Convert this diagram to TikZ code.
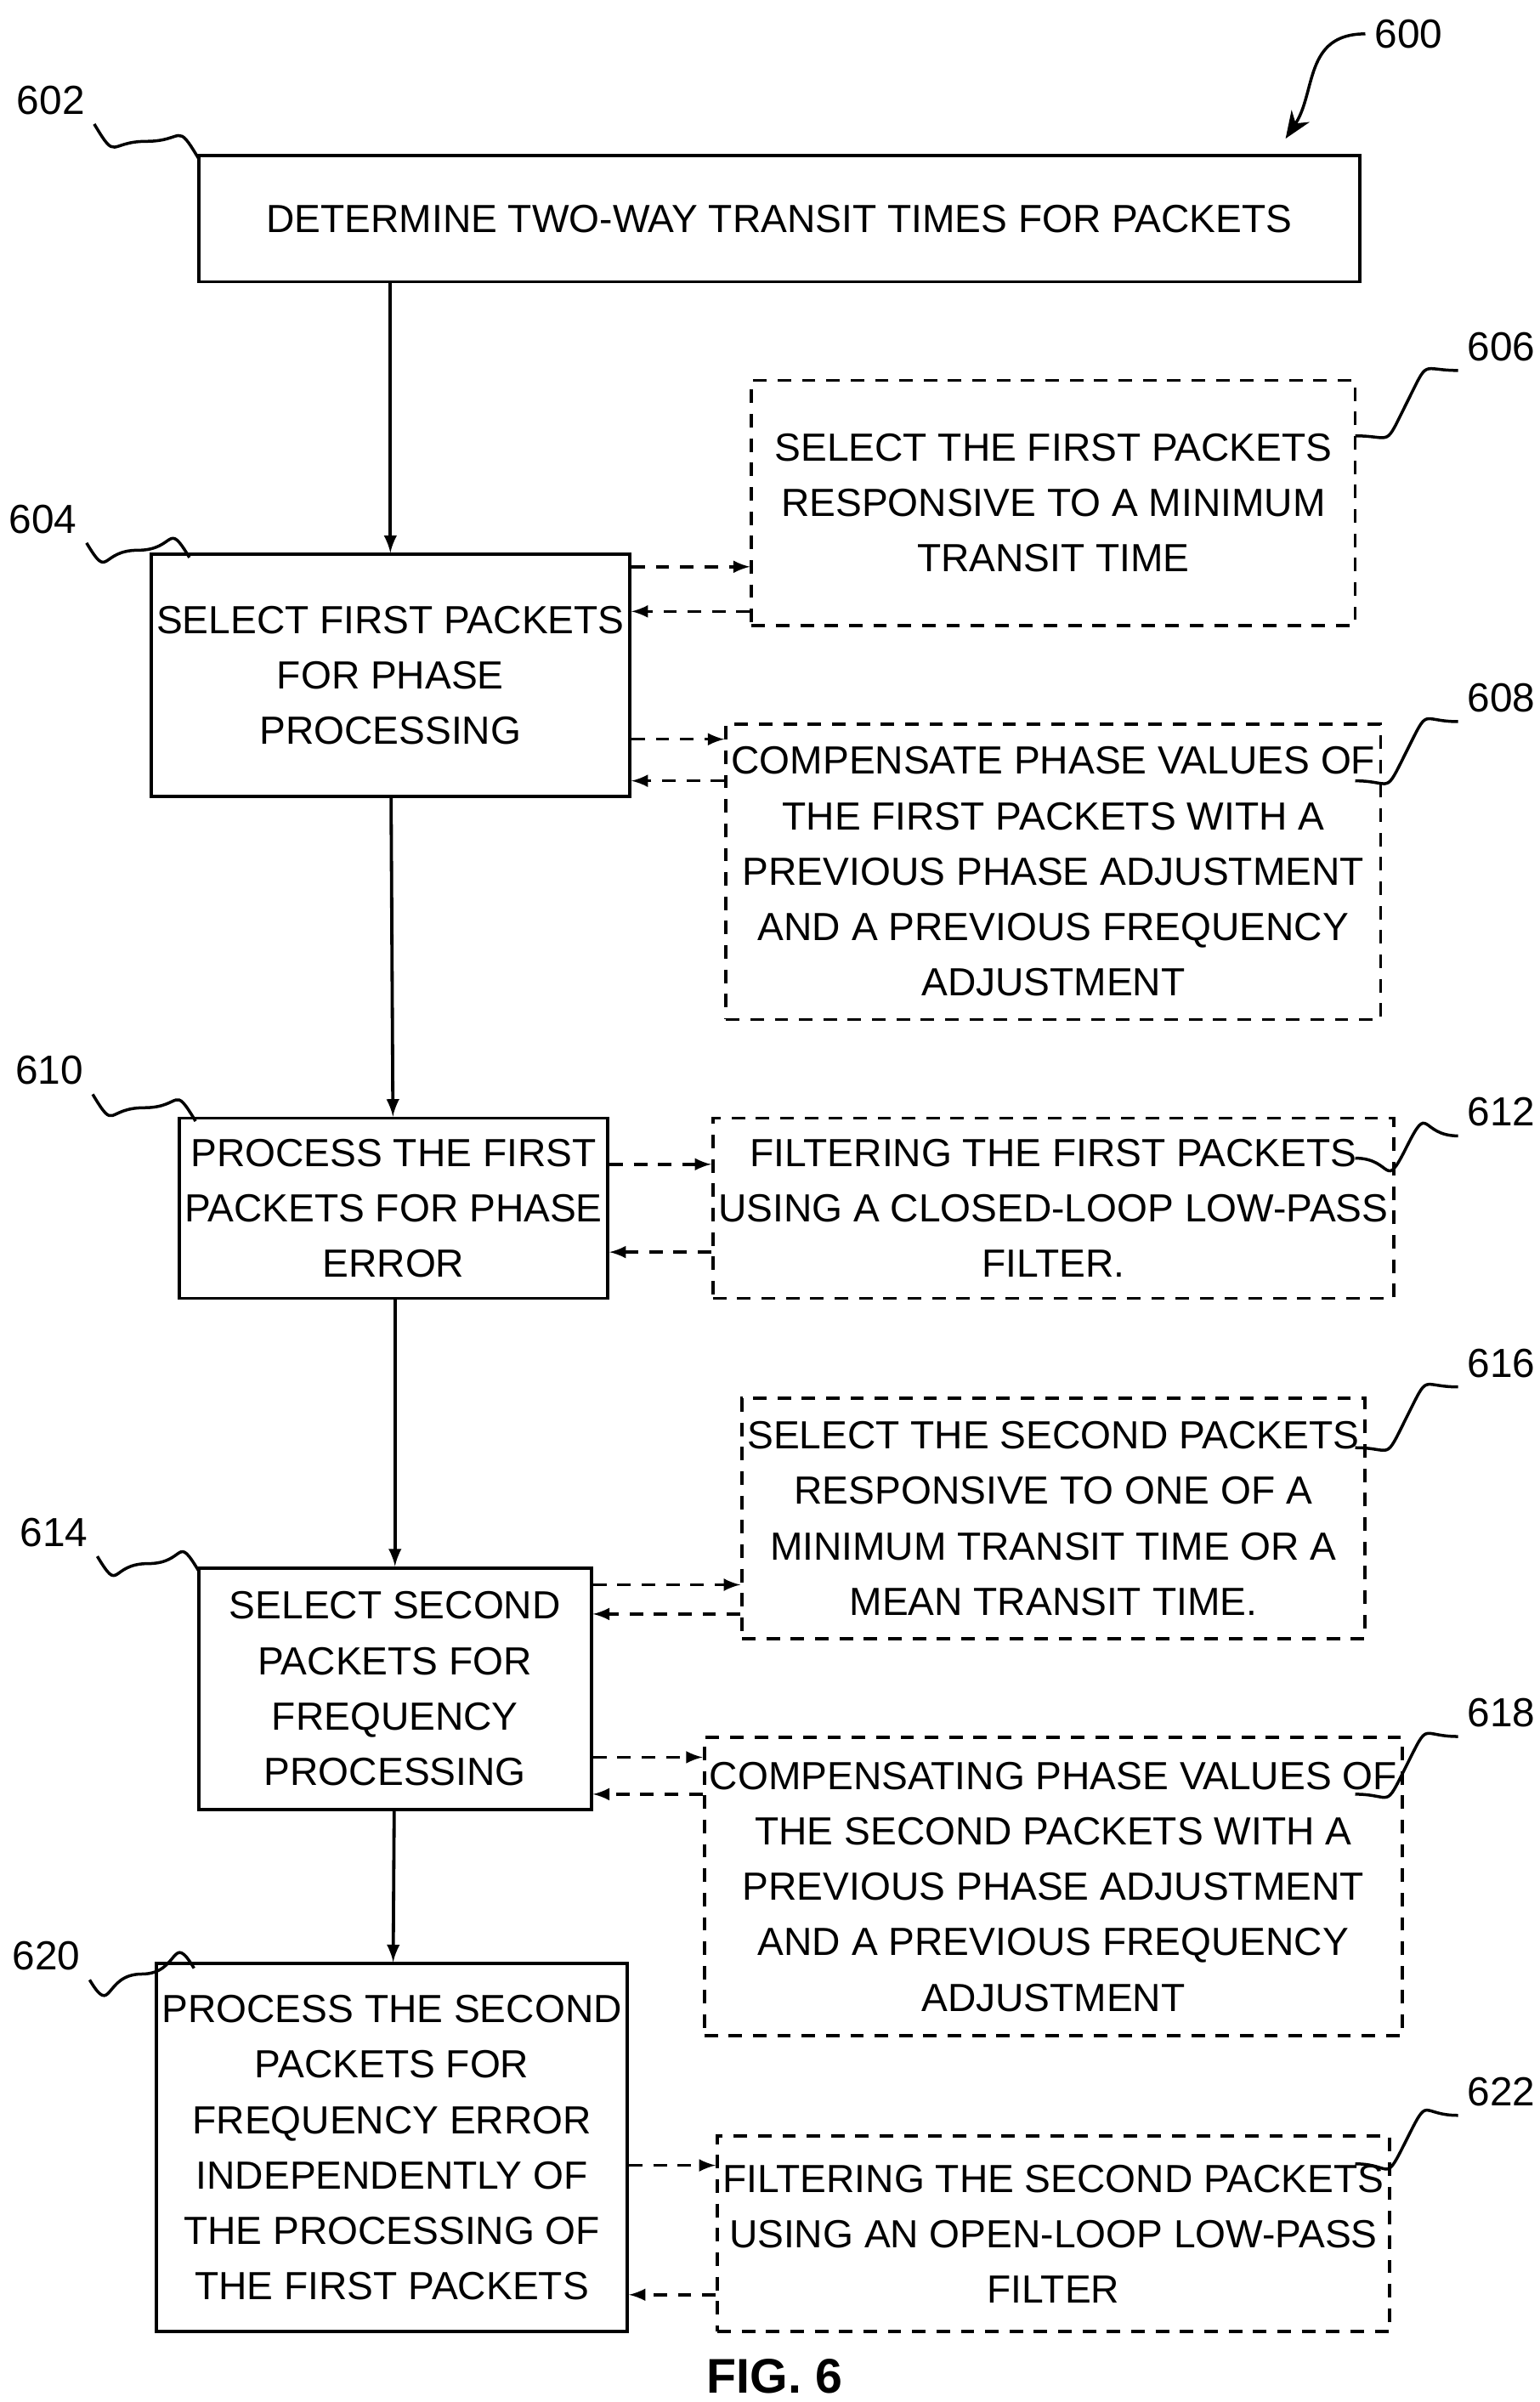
\documentclass[tikz,border=0pt]{standalone}
\usepackage{fontspec}
\setmainfont{Liberation Sans}
\usetikzlibrary{arrows,arrows.meta,positioning,calc}
\tikzset{blk/.style={draw,line width=1.2pt,align=center,inner sep=2pt,font=\fontsize{14.5}{20.5}\selectfont},
  dblk/.style={blk,dashed,dash pattern=on 5pt off 4pt},
  lbl/.style={font=\fontsize{15}{18}\selectfont},
  dar/.style={line width=1.1pt,dash pattern=on 5pt off 4pt,-latex},
  sar/.style={line width=1.2pt,-latex},
  ld/.style={line width=1.1pt}}
\newcommand{\pt}[2]{(#1*0.02,-#2*0.02)}
\begin{document}
\begin{tikzpicture}[>=latex]
\useasboundingbox (0,0) rectangle (20,-31.2);
% boxes
\node[blk,minimum width=15.08cm,minimum height=1.64cm] (B602) at \pt{506}{142} {DETERMINE TWO-WAY TRANSIT TIMES FOR PACKETS};
\node[blk,minimum width=5.22cm,minimum height=3.14cm] (B604) at \pt{253.5}{438.5} {SELECT FIRST PACKETS\\FOR PHASE\\PROCESSING};
\node[dblk,minimum width=7.84cm,minimum height=3.18cm] (B606) at \pt{684}{326.5} {SELECT THE FIRST PACKETS\\RESPONSIVE TO A MINIMUM\\TRANSIT TIME};
\node[dblk,minimum width=7.84cm,minimum height=3.84cm] (B608) at \pt{684}{566} {COMPENSATE PHASE VALUES OF\\THE FIRST PACKETS WITH A\\PREVIOUS PHASE ADJUSTMENT\\AND A PREVIOUS FREQUENCY\\ADJUSTMENT};
\node[blk,minimum width=5.14cm,minimum height=2.34cm] (B610) at \pt{255.5}{784.5} {PROCESS THE FIRST\\PACKETS FOR PHASE\\ERROR};
\node[dblk,minimum width=7.84cm,minimum height=2.34cm] (B612) at \pt{684}{784.5} {FILTERING THE FIRST PACKETS\\USING A CLOSED-LOOP LOW-PASS\\FILTER.};
\node[dblk,minimum width=7.84cm,minimum height=3.12cm] (B616) at \pt{684}{986} {SELECT THE SECOND PACKETS\\RESPONSIVE TO ONE OF A\\MINIMUM TRANSIT TIME OR A\\MEAN TRANSIT TIME.};
\node[blk,minimum width=5.1cm,minimum height=3.14cm] (B614) at \pt{256.5}{1096.5} {SELECT SECOND\\PACKETS FOR\\FREQUENCY\\PROCESSING};
\node[dblk,minimum width=7.84cm,minimum height=3.88cm] (B618) at \pt{684}{1225} {COMPENSATING PHASE VALUES OF\\THE SECOND PACKETS WITH A\\PREVIOUS PHASE ADJUSTMENT\\AND A PREVIOUS FREQUENCY\\ADJUSTMENT};
\node[blk,minimum width=5.14cm,minimum height=4.78cm] (B620) at \pt{254.5}{1394.5} {PROCESS THE SECOND\\PACKETS FOR\\FREQUENCY ERROR\\INDEPENDENTLY OF\\THE PROCESSING OF\\THE FIRST PACKETS};
\node[dblk,minimum width=7.84cm,minimum height=2.54cm] (B622) at \pt{684}{1450.5} {FILTERING THE SECOND PACKETS\\USING AN OPEN-LOOP LOW-PASS\\FILTER};
\node[font=\bfseries\fontsize{18}{22}\selectfont] (fig) at \pt{503}{1543} {FIG. 6};
% main flow
\draw[sar] (B602.south -| B604) -- (B604.north);
\draw[sar] (B604) -- (B610);
\draw[sar] (B610.south -| B614) -- (B614.north);
\draw[sar] (B614) -- (B620);
% dashed pairs
\foreach \a/\b/\u/\d in {B604/B606/368/397, B604/B608/480/507, B610/B612/756/813, B614/B616/1029/1048, B614/B618/1141/1165, B620/B622/1406/1490}{
  \draw[dar] (\a.east |- 0,-\u*0.02) -- (\b.west |- 0,-\u*0.02);
  \draw[dar] (\b.west |- 0,-\d*0.02) -- (\a.east |- 0,-\d*0.02);
}
% reference numerals
\foreach \n/\x/\y/\p/\q in {602/33/65/129/103, 604/28/337/123/362, 610/32/695/127/728, 614/35/995/129/1020, 620/30/1270/126/1278}{
  \node[lbl] (L\n) at (\x*0.02,-\y*0.02) {\n};
  \coordinate (E\n) at (\p*0.02,-\q*0.02);
  \coordinate (K\n) at ($(L\n.south east)!0.5!(E\n)$);
  \draw[ld] (L\n.south east) .. controls +(0.3,-0.5) and +(-0.5,0) .. (K\n) .. controls +(0.5,0) and +(-0.3,0.5) .. (E\n);
}
\foreach \n/\x/\y/\p/\q in {606/975/225/880/283, 608/975/453/880/507, 612/975/722/880/752, 616/975/885/880/940, 618/975/1112/880/1165, 622/975/1358/880/1405}{
  \node[lbl] (L\n) at (\x*0.02,-\y*0.02) {\n};
  \coordinate (R\n) at (\p*0.02,-\q*0.02);
  \coordinate (M\n) at ($(R\n)!0.5!(L\n.south west)$);
  \draw[ld] (R\n) .. controls +(0.5,0) and +(-0.3,-0.6) .. (M\n) .. controls +(0.3,0.6) and +(-0.5,0) .. (L\n.south west);
}
\node[lbl] (L600) at (18.3,-0.44) {600};
\coordinate (T600) at (16.7,-1.8);
\draw[ld,-{Stealth[length=10pt,width=8pt]}] (L600.west) .. controls +(-0.8,0) and +(0.4,0.6) .. (T600);
\end{tikzpicture}
\end{document}
